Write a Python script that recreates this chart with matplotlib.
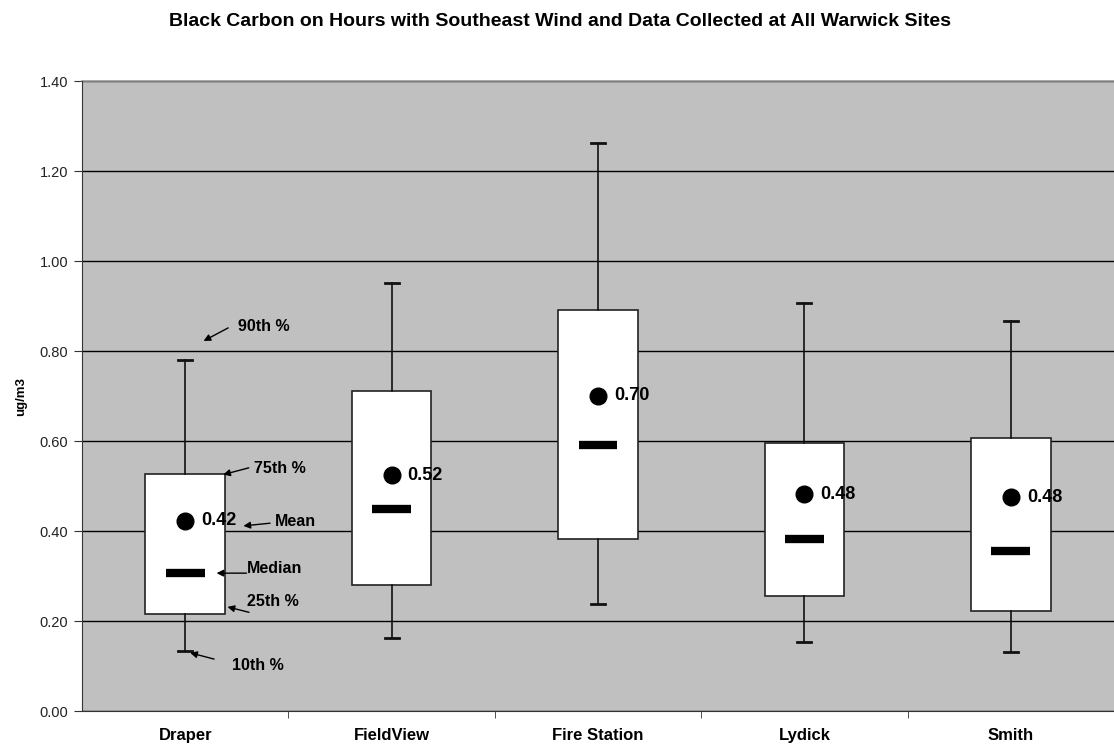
import matplotlib
matplotlib.use("Agg")
import matplotlib.pyplot as plt

sites = ["Draper", "FieldView", "Fire Station", "Lydick", "Smith"]
p10 = [0.134, 0.164, 0.238, 0.154, 0.131]
p25 = [0.217, 0.281, 0.383, 0.256, 0.222]
median = [0.308, 0.449, 0.592, 0.384, 0.356]
mean = [0.423, 0.524, 0.701, 0.482, 0.476]
p75 = [0.527, 0.711, 0.891, 0.597, 0.607]
p90 = [0.780, 0.952, 1.264, 0.907, 0.867]
yticks = [0.0, 0.2, 0.4, 0.6, 0.8, 1.0, 1.2, 1.4]

plt.rcParams['font.family'] = ['Liberation Sans', 'DejaVu Sans']

W, H = 1114, 748
fig = plt.figure(figsize=(W / 100, H / 100), dpi=100)
ax = fig.add_axes([82 / W, 1 - 711.3 / H, (W - 82) / W, (711.3 - 81.3) / H])
ax.set_facecolor("#C0C0C0")

pos = list(range(len(sites)))
stats = []
for i in pos:
    stats.append(dict(med=median[i], q1=p25[i], q3=p75[i],
                      whislo=p10[i], whishi=p90[i], mean=mean[i]))

ax.bxp(stats, positions=pos, widths=0.386, patch_artist=True,
       showmeans=True, showfliers=False,
       boxprops=dict(facecolor="white", edgecolor="#222222", linewidth=1.2),
       whiskerprops=dict(color="#111111", linewidth=1.2),
       capprops=dict(color="#111111", linewidth=2.0),
       capwidths=0.068,
       medianprops=dict(visible=False),
       meanprops=dict(marker="o", markerfacecolor="black",
                      markeredgecolor="black", markersize=12))

ax.hlines(median, [p - 0.094 for p in pos], [p + 0.094 for p in pos],
          colors="black", linewidth=6, zorder=5)

for i in pos:
    ax.annotate(f"{mean[i]:.2f}", xy=(i, mean[i]), xytext=(16, 0),
                textcoords="offset pixels", va="center", ha="left",
                fontsize=13, fontweight="bold", zorder=6)

ax.set_xlim(-0.5, -0.5 + (W - 82) / 207)
ax.set_ylim(0, 1.4)
ax.set_yticks(yticks)
ax.set_yticklabels([f"{v:.2f}" for v in yticks], fontsize=10.5, color="#222222")
ax.yaxis.grid(True, color="black", linewidth=1.0)
ax.set_axisbelow(True)

ax.set_xticks(pos)
ax.set_xticklabels(sites, fontsize=12, fontweight="bold")
ax.tick_params(axis="x", length=0, pad=12)
ax.set_xticks([p + 0.5 for p in pos], minor=True)
ax.tick_params(axis="x", which="minor", length=5, color="#333333")
ax.tick_params(axis="y", length=6, color="#333333", pad=4)

for s in ["top", "right"]:
    ax.spines[s].set_visible(False)
ax.spines["left"].set_color("#333333")
ax.spines["bottom"].set_color("#333333")
ax.plot([0, 1], [1, 1], transform=ax.transAxes, color="#9A9A9A",
        linewidth=1.2, clip_on=False)

ax.set_ylabel("ug/m3", fontsize=9.5, fontweight="bold", labelpad=9)
fig.text(0.503, 1 - 21 / H, "Black Carbon on Hours with Southeast Wind and Data Collected at All Warwick Sites",
         ha="center", va="center", fontsize=14, fontweight="bold")

notes = [
    ("90th %", (0.256, 0.856), (0.208, 0.852), (0.089, 0.823)),
    ("75th %", (0.333, 0.540), (0.308, 0.541), (0.184, 0.526)),
    ("Mean", (0.435, 0.422), (0.411, 0.418), (0.282, 0.412)),
    ("Median", (0.301, 0.318), (0.297, 0.307), (0.152, 0.307)),
    ("25th %", (0.297, 0.244), (0.309, 0.220), (0.205, 0.232)),
    ("10th %", (0.229, 0.101), (0.140, 0.116), (0.024, 0.130)),
]
for txt, tpos, tail, head in notes:
    ax.text(tpos[0], tpos[1], txt, ha="left", va="center", fontsize=11.5,
            fontweight="bold", zorder=6)
    ax.annotate("", xy=head, xytext=tail,
                arrowprops=dict(arrowstyle="-|>", color="black", lw=1.0,
                                mutation_scale=10, shrinkA=0, shrinkB=0),
                zorder=6)

fig.savefig("out.png", dpi=100)
